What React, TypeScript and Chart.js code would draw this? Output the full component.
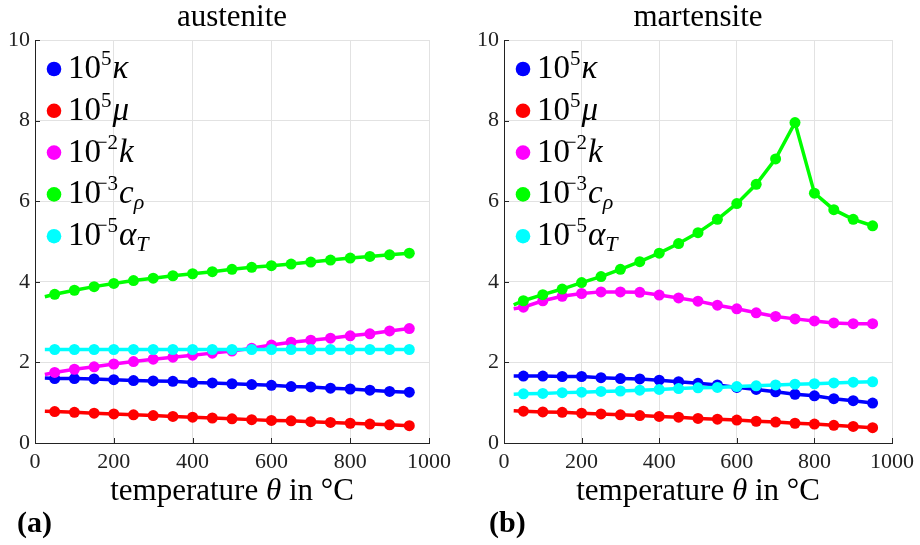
import { useEffect, useRef } from "react";
import { Chart, registerables } from "chart.js";

Chart.register(...registerables);

// Temperatures (°C): first entry is the start of the fitted line (no marker)
const temps = [25, 50, 100, 150, 200, 250, 300, 350, 400, 450, 500, 550, 600, 650, 700, 750, 800, 850, 900, 950];

// Austenite
const austKappa = [1.61, 1.60, 1.60, 1.59, 1.57, 1.55, 1.54, 1.53, 1.50, 1.49, 1.47, 1.45, 1.43, 1.40, 1.39, 1.36, 1.34, 1.31, 1.28, 1.26];
const austMu = [0.79, 0.78, 0.76, 0.74, 0.72, 0.70, 0.68, 0.66, 0.64, 0.62, 0.60, 0.58, 0.56, 0.55, 0.53, 0.51, 0.49, 0.47, 0.45, 0.43];
const austK = [1.70, 1.75, 1.83, 1.89, 1.96, 2.02, 2.08, 2.13, 2.18, 2.23, 2.28, 2.35, 2.43, 2.50, 2.55, 2.60, 2.66, 2.71, 2.78, 2.84];
const austC = [3.63, 3.69, 3.79, 3.88, 3.96, 4.03, 4.09, 4.15, 4.20, 4.25, 4.31, 4.36, 4.40, 4.44, 4.49, 4.54, 4.59, 4.63, 4.67, 4.71];
const austAlpha = [2.32, 2.32, 2.32, 2.32, 2.32, 2.32, 2.32, 2.32, 2.32, 2.32, 2.32, 2.32, 2.32, 2.32, 2.32, 2.32, 2.32, 2.32, 2.32, 2.32];

// Martensite
const martKappa = [1.66, 1.66, 1.66, 1.65, 1.65, 1.62, 1.60, 1.59, 1.56, 1.52, 1.48, 1.44, 1.38, 1.33, 1.27, 1.21, 1.17, 1.10, 1.05, 0.99];
const martMu = [0.80, 0.79, 0.77, 0.76, 0.74, 0.72, 0.70, 0.68, 0.66, 0.64, 0.61, 0.59, 0.57, 0.54, 0.52, 0.49, 0.47, 0.44, 0.41, 0.38];
const martK = [3.33, 3.37, 3.53, 3.64, 3.71, 3.75, 3.75, 3.74, 3.67, 3.60, 3.52, 3.42, 3.33, 3.23, 3.14, 3.08, 3.03, 2.98, 2.96, 2.96];
const martC = [3.43, 3.53, 3.68, 3.82, 3.98, 4.13, 4.31, 4.50, 4.71, 4.95, 5.22, 5.55, 5.94, 6.42, 7.05, 7.95, 6.20, 5.79, 5.55, 5.39];
const martAlpha = [1.21, 1.22, 1.23, 1.25, 1.26, 1.28, 1.29, 1.31, 1.33, 1.35, 1.37, 1.38, 1.40, 1.42, 1.44, 1.46, 1.47, 1.49, 1.51, 1.52];

// Legend text pieces
const legendBases = ["10", "10", "10", "10", "10"];
const legendExps = ["5", "5", "\u22122", "\u22123", "\u22125"];
const legendSyms = ["\u03BA", "\u03BC", "k", "c", "\u03B1"];
const legendSubs = ["", "", "", "\u03C1", "T"];
const seriesColors = ["#0000ff", "#ff0000", "#ff00ff", "#00ff00", "#00ffff"];

const panelTitles = ["austenite", "martensite"];
const panelLabels = ["(a)", "(b)"];
const xAxisParts = ["temperature ", "\u03B8", " in \u00B0C"];

const SERIF = "'Liberation Serif', 'DejaVu Serif', serif";

const overlayPlugin = {
  id: "overlay",
  afterDraw(chart: any, _args: any, opts: any) {
    const { ctx, chartArea: a } = chart;
    const xs = chart.scales.x;
    const ys = chart.scales.y;
    ctx.save();
    // inner ticks
    ctx.strokeStyle = "#262626";
    ctx.lineWidth = 1;
    ctx.beginPath();
    xs.ticks.forEach((t: any) => {
      const px = Math.round(xs.getPixelForValue(t.value)) + 0.5;
      ctx.moveTo(px, a.bottom);
      ctx.lineTo(px, a.bottom - 5);
    });
    ys.ticks.forEach((t: any) => {
      const py = Math.round(ys.getPixelForValue(t.value)) + 0.5;
      ctx.moveTo(a.left, py);
      ctx.lineTo(a.left + 5, py);
    });
    ctx.stroke();

    const cxPlot = (a.left + a.right) / 2;
    ctx.fillStyle = "#000";
    ctx.textBaseline = "alphabetic";
    // title
    ctx.font = `31px ${SERIF}`;
    ctx.textAlign = "center";
    ctx.fillText(opts.title, cxPlot, 26);

    // x-axis title with italic theta
    const fonts = [`31px ${SERIF}`, `italic 31px ${SERIF}`, `31px ${SERIF}`];
    let total = 0;
    const widths = xAxisParts.map((p, i) => {
      ctx.font = fonts[i];
      const w = ctx.measureText(p).width;
      total += w;
      return w;
    });
    let x = cxPlot - total / 2;
    ctx.textAlign = "left";
    xAxisParts.forEach((p, i) => {
      ctx.font = fonts[i];
      ctx.fillText(p, x, 500);
      x += widths[i];
    });

    // panel label
    ctx.font = `bold 30px ${SERIF}`;
    ctx.fillText(opts.panel, opts.panelX, 532);

    // legend
    for (let i = 0; i < legendBases.length; i++) {
      const cy = a.top + 29 + 41.8 * i;
      const cx = a.left + 19;
      ctx.fillStyle = seriesColors[i];
      ctx.beginPath();
      ctx.arc(cx, cy, 7.3, 0, Math.PI * 2);
      ctx.fill();
      ctx.fillStyle = "#000";
      const base = cy + 9;
      let tx = cx + 14;
      ctx.font = `33px ${SERIF}`;
      ctx.fillText(legendBases[i], tx, base);
      tx += ctx.measureText(legendBases[i]).width;
      ctx.font = `21px ${SERIF}`;
      const exp = legendExps[i];
      const neg = exp.charAt(0) === "\u2212";
      const shift = neg ? ctx.measureText("\u2212").width * 0.45 : 0;
      ctx.fillText(exp, tx - shift, base - 13);
      tx += ctx.measureText(exp).width - shift + 1;
      ctx.font = `italic 33px ${SERIF}`;
      ctx.fillText(legendSyms[i], tx, base);
      tx += ctx.measureText(legendSyms[i]).width;
      if (legendSubs[i]) {
        ctx.font = `italic 22px ${SERIF}`;
        ctx.fillText(legendSubs[i], tx, base + 6);
      }
    }
    ctx.restore();
  },
};

function makeDatasets(series: number[][]) {
  return series.map((vals, i) => ({
    label: legendSyms[i],
    data: temps.map((t, j) => ({ x: t, y: vals[j] })),
    borderColor: seriesColors[i],
    backgroundColor: seriesColors[i],
    borderWidth: 3.5,
    pointRadius: temps.map((_, j) => (j === 0 ? 0 : 5.5)),
    pointBorderWidth: 0,
    pointBackgroundColor: seriesColors[i],
    tension: 0,
    order: 5 - i,
  }));
}

function Panel(props: { idx: number; series: number[][]; left: number; yWidth: number; padRight: number; panelX: number }) {
  const ref = useRef<HTMLCanvasElement | null>(null);
  useEffect(() => {
    if (!ref.current) return;
    const chart = new Chart(ref.current, {
      type: "line",
      data: { datasets: makeDatasets(props.series) as any },
      options: {
        animation: false,
        responsive: false,
        devicePixelRatio: 1,
        layout: { padding: { left: 0, top: 40, right: props.padRight, bottom: 0 } },
        plugins: {
          legend: { display: false },
          tooltip: { enabled: false },
          overlay: { title: panelTitles[props.idx], panel: panelLabels[props.idx], panelX: props.panelX },
        } as any,
        scales: {
          x: {
            type: "linear",
            min: 0,
            max: 1000,
            ticks: {
              stepSize: 200,
              color: "#222",
              font: { family: SERIF, size: 22 },
              padding: 6,
              maxRotation: 0,
              callback: (v: any) => String(v),
            },
            grid: { color: "#e2e2e2", drawTicks: false },
            border: { color: "#222", width: 1 },
            afterFit: (s: any) => {
              s.height = 102;
            },
          },
          y: {
            min: 0,
            max: 10,
            ticks: { stepSize: 2, color: "#222", font: { family: SERIF, size: 22 }, padding: 5, callback: (v: any) => String(v) },
            grid: { color: "#e2e2e2", drawTicks: false },
            border: { color: "#222", width: 1 },
            afterFit: (s: any) => {
              s.width = props.yWidth;
            },
          },
        },
      },
      plugins: [overlayPlugin as any],
    });
    return () => chart.destroy();
  }, []);
  return (
    <canvas
      ref={ref}
      width={460}
      height={545}
      style={{ position: "absolute", left: props.left, top: 0, width: 460, height: 545 }}
    />
  );
}

export default function App() {
  return (
    <div style={{ position: "absolute", left: 0, top: 0, width: 920, height: 545, background: "#fff" }}>
      <Panel idx={0} series={[austKappa, austMu, austK, austC, austAlpha]} left={0} yWidth={35} padRight={31} panelX={17} />
      <Panel idx={1} series={[martKappa, martMu, martK, martC, martAlpha]} left={460} yWidth={44} padRight={23} panelX={29} />
    </div>
  );
}
